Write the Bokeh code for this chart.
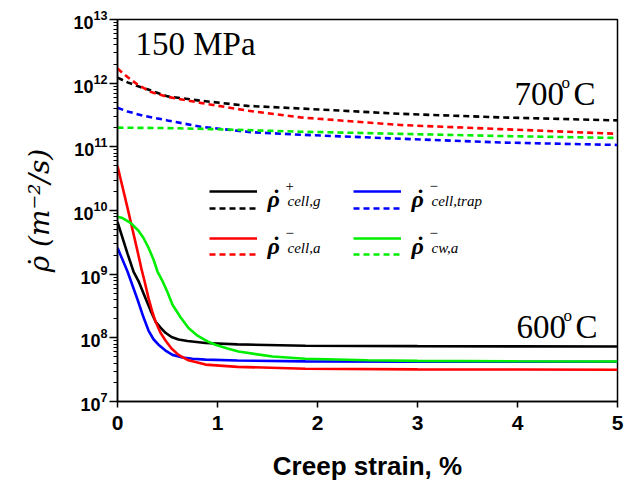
from bokeh.plotting import figure
from bokeh.models import Label, Legend, LegendItem
from bokeh.embed import file_html
from bokeh.resources import INLINE

# ---- data ----
# 600 C, solid lines
x_g600 = [0, 0.1, 0.16, 0.21, 0.28, 0.33, 0.38, 0.43, 0.48, 0.54, 0.61, 0.7, 0.88, 1.2, 1.88, 3.0, 4.0, 5.0]
y_g600 = [6.6e9, 2.1e9, 1.1e9, 7.8e8, 4.2e8, 2.7e8, 1.8e8, 1.45e8, 1.2e8, 1.03e8, 9.4e7, 8.9e7, 8.3e7, 7.9e7, 7.5e7, 7.4e7, 7.35e7, 7.3e7]
x_trap600 = [0, 0.1, 0.2, 0.26, 0.31, 0.36, 0.41, 0.48, 0.55, 0.65, 0.75, 0.88, 1.2, 1.88, 3.0, 4.0, 5.0]
y_trap600 = [2.6e9, 1.1e9, 4.0e8, 2.1e8, 1.3e8, 9.5e7, 7.8e7, 6.3e7, 5.4e7, 4.9e7, 4.7e7, 4.55e7, 4.4e7, 4.27e7, 4.22e7, 4.2e7, 4.2e7]
x_a600 = [0, 0.1, 0.2, 0.24, 0.27, 0.31, 0.35, 0.38, 0.43, 0.48, 0.54, 0.61, 0.7, 0.88, 1.2, 1.88, 3.0, 4.0, 5.0]
y_a600 = [5e10, 1.1e10, 2.3e9, 1.2e9, 7.8e8, 4.2e8, 2.5e8, 1.8e8, 1.2e8, 9.1e7, 6.8e7, 5.4e7, 4.5e7, 3.8e7, 3.5e7, 3.27e7, 3.2e7, 3.18e7, 3.16e7]
x_cw600 = [0, 0.05, 0.13, 0.21, 0.26, 0.31, 0.36, 0.40, 0.45, 0.5, 0.55, 0.63, 0.71, 0.8, 0.9, 0.98, 1.1, 1.21, 1.4, 1.55, 1.88, 2.5, 3.0, 4.0, 5.0]
y_cw600 = [8e9, 7.6e9, 6.4e9, 4.8e9, 3.7e9, 2.6e9, 1.7e9, 1.1e9, 7.8e8, 5.2e8, 3.3e8, 2.1e8, 1.43e8, 1.08e8, 8.8e7, 7.8e7, 6.8e7, 6.1e7, 5.5e7, 5.1e7, 4.7e7, 4.45e7, 4.35e7, 4.28e7, 4.25e7]

# 700 C, dashed lines
x_g700 = [0, 0.05, 0.1, 0.2, 0.3, 0.5, 0.83, 1.3, 1.83, 2.83, 3.83, 5.0]
y_g700 = [1.22e12, 1.12e12, 1.03e12, 9.0e11, 8.0e11, 6.2e11, 5.3e11, 4.4e11, 4.0e11, 3.3e11, 2.9e11, 2.6e11]
x_a700 = [0, 0.05, 0.1, 0.2, 0.33, 0.5, 0.83, 1.3, 1.83, 2.83, 3.83, 5.0]
y_a700 = [1.7e12, 1.45e12, 1.25e12, 9.5e11, 7.3e11, 6.1e11, 4.9e11, 3.7e11, 2.9e11, 2.2e11, 1.9e11, 1.6e11]
x_trap700 = [0, 0.1, 0.25, 0.5, 0.83, 1.33, 1.83, 2.83, 3.83, 5.0]
y_trap700 = [4.1e11, 3.6e11, 3.1e11, 2.6e11, 2.07e11, 1.7e11, 1.55e11, 1.34e11, 1.17e11, 1.07e11]
x_cw700 = [0, 0.5, 0.93, 1.83, 2.83, 3.83, 5.0]
y_cw700 = [2.0e11, 1.97e11, 1.9e11, 1.73e11, 1.6e11, 1.48e11, 1.38e11]

x_ticks = [0, 1, 2, 3, 4, 5]

BLACK, RED, BLUE, GREEN = "#000000", "#ff0000", "#0000ff", "#00ee00"
LW = 2.6
DASH = "6 4"

p = figure(width=626, height=487, output_backend="svg", toolbar_location=None,
           x_range=(0, 5), y_range=(1e7, 1e13), y_axis_type="log",
           min_border_left=117, min_border_right=9, min_border_top=19, min_border_bottom=86)
p.background_fill_color = "white"
p.border_fill_color = "white"
p.grid.visible = False
p.outline_line_color = "black"
p.outline_line_width = 1.5

r_g600 = p.line(x_g600, y_g600, line_color=BLACK, line_width=LW)
r_t600 = p.line(x_trap600, y_trap600, line_color=BLUE, line_width=LW)
r_a600 = p.line(x_a600, y_a600, line_color=RED, line_width=LW)
r_c600 = p.line(x_cw600, y_cw600, line_color=GREEN, line_width=LW)
r_g700 = p.line(x_g700, y_g700, line_color=BLACK, line_width=LW, line_dash=DASH)
r_a700 = p.line(x_a700, y_a700, line_color=RED, line_width=LW, line_dash=DASH)
r_t700 = p.line(x_trap700, y_trap700, line_color=BLUE, line_width=LW, line_dash=DASH)
r_c700 = p.line(x_cw700, y_cw700, line_color=GREEN, line_width=LW, line_dash=DASH)

# axes
for ax in (p.xaxis[0], p.yaxis[0]):
    ax.axis_line_width = 1.5
    ax.major_tick_line_width = 1.5
    ax.minor_tick_line_width = 1.2
    ax.major_tick_in = 0
    ax.minor_tick_in = 0
    ax.major_label_text_font = "Liberation Sans"
    ax.major_label_text_font_style = "bold"
    ax.major_label_text_color = "black"
    ax.axis_label_text_color = "black"

p.xaxis.ticker = x_ticks
p.xaxis[0].ticker.num_minor_ticks = 2
p.xaxis.major_tick_out = 6
p.xaxis.minor_tick_out = 4
p.xaxis.major_label_text_font_size = "21px"
p.xaxis.major_label_standoff = 8
p.xaxis.axis_label = "Creep strain, %"
p.xaxis.axis_label_text_font = "Liberation Sans"
p.xaxis.axis_label_text_font_style = "bold"
p.xaxis.axis_label_text_font_size = "26px"
p.xaxis.axis_label_standoff = 18

p.yaxis.major_tick_out = 8
p.yaxis.minor_tick_out = 4
p.yaxis.major_label_text_font_size = "18px"
p.yaxis.major_label_standoff = 2
p.yaxis.axis_label = "\u03c1\u0307 (m\u207b\u00b2/s)"
p.yaxis.axis_label_text_font = "DejaVu Serif"
p.yaxis.axis_label_text_font_style = "italic"
p.yaxis.axis_label_text_font_size = "28px"
p.yaxis.axis_label_standoff = 14

# legend: sample lines via Legend objects (no text), text drawn as labels
def make_legend(renderers, vx, vy):
    items = [LegendItem(label=" ", renderers=[r]) for r in renderers]
    lg = Legend(items=items, location=(vx, vy), orientation="horizontal",
                glyph_width=48, glyph_height=10, label_height=10, label_width=96,
                label_standoff=0, spacing=0, padding=0, margin=0,
                label_text_font_size="2px",
                border_line_alpha=0, background_fill_alpha=0)
    p.add_layout(lg, "center")

FL, FB = 117, 400  # frame left / bottom in page px
make_legend([r_g600, r_t600], 209 - FL, FB - 185 - 10)
make_legend([r_g700, r_t700], 209 - FL, FB - 202 - 10)
make_legend([r_a600, r_c600], 209 - FL, FB - 232 - 10)
make_legend([r_a700, r_c700], 209 - FL, FB - 248 - 10)

DY = 11  # baseline correction

def lab(text, X, Y, size, font="Liberation Serif", style="normal"):
    p.add_layout(Label(x=X - FL, y=FB - Y + DY, x_units="screen", y_units="screen", text=text,
                       text_font=font, text_font_size=size, text_font_style=style,
                       text_color="black", text_baseline="alphabetic", text_align="left"))

# legend texts
for (X, Y, sup, sub) in [(267, 208, "+", "cell,g"), (411, 208, "\u2212", "cell,trap"),
                         (267, 255, "\u2212", "cell,a"), (411, 255, "\u2212", "cw,a")]:
    lab("\u03c1", X, Y, "24px", style="bold italic")
    lab("\u02d9", X + 5, Y - 1, "24px", style="bold")
    lab(sup, X + 18, Y - 13, "15px")
    lab(sub, X + 20, Y + 2, "15px", style="italic")

# annotation texts
lab("150 MPa", 135, 53, "33px")
lab("700", 514, 103, "33px")
lab("o", 561, 92, "17px")
lab("C", 573, 103, "33px")
lab("600", 516, 336, "33px")
lab("o", 563, 325, "17px")
lab("C", 575, 336, "33px")

open("out.html", "w").write(file_html(p, INLINE))
